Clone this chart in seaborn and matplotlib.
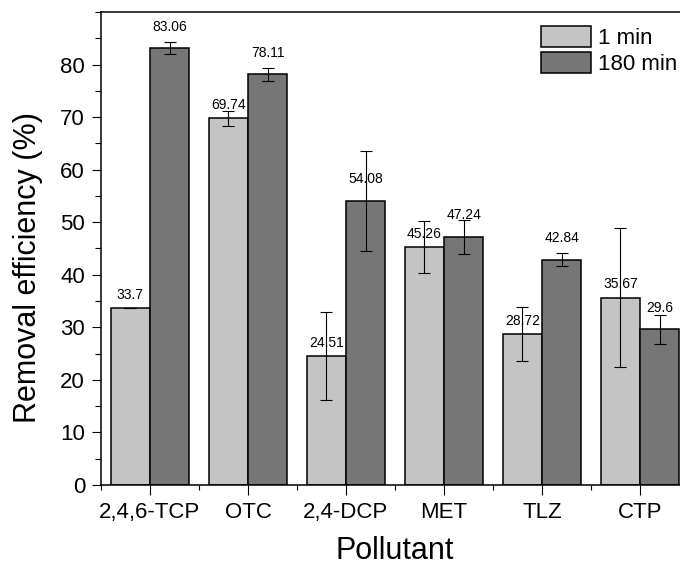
import pandas as pd
import matplotlib
matplotlib.use('Agg')
import matplotlib.pyplot as plt
from matplotlib.ticker import MultipleLocator, FixedLocator
import seaborn as sns

# Removal efficiency data
pollutants = ['2,4,6-TCP', 'OTC', '2,4-DCP', 'MET', 'TLZ', 'CTP']
times = ['1 min', '180 min']
eff_1min = [33.7, 69.74, 24.51, 45.26, 28.72, 35.67]
eff_180min = [83.06, 78.11, 54.08, 47.24, 42.84, 29.6]
err_1min = [0, 1.45, 8.4, 5.0, 5.1, 13.2]
err_180min = [1.15, 1.3, 9.5, 3.2, 1.25, 2.75]

df = pd.DataFrame({
    'Pollutant': pollutants * 2,
    'Time': [times[0]] * len(pollutants) + [times[1]] * len(pollutants),
    'Removal': eff_1min + eff_180min,
})
errs = [err_1min, err_180min]

sns.set_style('ticks')
plt.rcParams['font.family'] = ['Liberation Sans', 'DejaVu Sans']
plt.rcParams.update({'text.color': 'black', 'axes.labelcolor': 'black',
                     'xtick.color': 'black', 'ytick.color': 'black',
                     'axes.edgecolor': 'black'})

fig = plt.figure(figsize=(6.8, 5.65), dpi=100)
ax = fig.add_axes([0.1485, 0.1416, 0.8647, 0.8372])

sns.barplot(data=df, x='Pollutant', y='Removal', hue='Time', order=pollutants,
            hue_order=times, palette=['#c4c4c4', '#767676'], saturation=1,
            edgecolor='black', linewidth=1.1, errorbar=None, width=0.8, ax=ax)

# error bars and value labels on top of the bars
label_offsets = [6.5, 12.6]
for cont, err, off in zip(ax.containers, errs, label_offsets):
    xs = [b.get_x() + b.get_width() / 2 for b in cont]
    hs = [b.get_height() for b in cont]
    ax.errorbar(xs, hs, yerr=err, fmt='none', ecolor='black', elinewidth=0.8,
                capsize=4, capthick=0.8)
    for x, h in zip(xs, hs):
        ax.annotate(f'{h:g}', (x, h), xytext=(0, off), textcoords='offset points',
                    ha='center', va='baseline', fontsize=10)

ax.set_xlim(-0.5, 5.5)
ax.set_ylim(0, 90)
ax.yaxis.set_major_locator(MultipleLocator(10))
ax.yaxis.set_minor_locator(MultipleLocator(5))
ax.set_yticks(range(0, 90, 10))
ax.xaxis.set_minor_locator(FixedLocator([i - 0.5 for i in range(7)]))

for s in ax.spines.values():
    s.set_visible(True)
    s.set_linewidth(1.1)
    s.set_edgecolor('black')

ax.tick_params(axis='x', which='major', direction='out', length=7, width=0.8,
               pad=5.5, labelsize=16)
ax.tick_params(axis='x', which='minor', direction='out', length=3.6, width=0.8)
ax.tick_params(axis='y', which='major', direction='out', length=6.7, width=0.8,
               pad=4.8, labelsize=16)
ax.tick_params(axis='y', which='minor', direction='out', length=4.3, width=0.8)

ax.set_xlabel('Pollutant', fontsize=22)
ax.set_ylabel('Removal efficiency (%)', fontsize=22)
ax.xaxis.set_label_coords(0.5, -0.108)
ax.yaxis.set_label_coords(-0.098, 0.46)

ax.legend(ax.containers, times, loc='upper left',
          bbox_to_anchor=(541 / 680, 1 - 26 / 565), bbox_transform=fig.transFigure,
          frameon=False, fontsize=16, borderpad=0, borderaxespad=0,
          handlelength=2.25, handleheight=1.07, handletextpad=0.3,
          labelspacing=0.14)

fig.savefig('out.png', dpi=100)
